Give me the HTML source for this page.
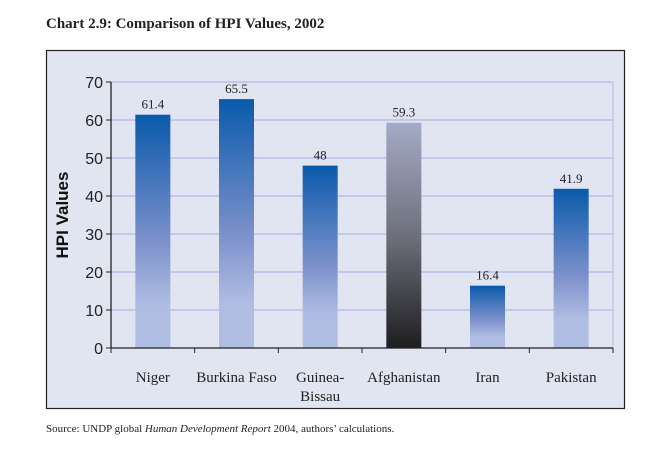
<!DOCTYPE html>
<html><head><meta charset="utf-8"><style>
body{margin:0;background:#fff;width:653px;height:457px;overflow:hidden}
svg{display:block}
</style></head><body>
<svg width="653" height="457" xmlns="http://www.w3.org/2000/svg">
<defs>
<linearGradient id="gb" x1="0" y1="0" x2="0" y2="1"><stop offset="0" stop-color="#0a5aab"/><stop offset="0.55" stop-color="#7d91cb"/><stop offset="0.82" stop-color="#b0bde3"/><stop offset="1" stop-color="#b0bde3"/></linearGradient>
<linearGradient id="gk" x1="0" y1="0" x2="0" y2="1"><stop offset="0" stop-color="#a4abc6"/><stop offset="0.5" stop-color="#6e707c"/><stop offset="1" stop-color="#1e1e20"/></linearGradient>
</defs>
<text x="46" y="28" font-family="Liberation Serif, serif" font-weight="bold" font-size="15" fill="#222">Chart 2.9: Comparison of HPI Values, 2002</text>
<rect x="46.5" y="50.5" width="578" height="358" fill="#e1e5f2" stroke="#222" stroke-width="1.2"/>
<g id="grid"></g>
<g id="bars"></g>
<g id="axes"></g>
<text transform="translate(68,215) rotate(-90)" text-anchor="middle" font-family="Liberation Sans, sans-serif" font-weight="bold" font-size="17" fill="#111">HPI Values</text>
<text x="46" y="432" font-family="Liberation Serif, serif" font-size="11" fill="#222">Source: UNDP global <tspan font-style="italic">Human Development Report</tspan> 2004, authors’ calculations.</text>
</svg>
<script>
const categories=[["Niger"],["Burkina Faso"],["Guinea-","Bissau"],["Afghanistan"],["Iran"],["Pakistan"]];
const values=[61.4,65.5,48,59.3,16.4,41.9];
const labels=["61.4","65.5","48","59.3","16.4","41.9"];
const yTicks=[0,10,20,30,40,50,60,70];
const NS="http://www.w3.org/2000/svg";
const X0=111,X1=613,Y0=348,Y1=82,YMAX=70;
const y=v=>Y0-(v/YMAX)*(Y0-Y1);
const bw=(X1-X0)/categories.length;
const x=i=>X0+bw*(i+0.5);
function mk(t,a,p){const e=document.createElementNS(NS,t);for(const k in a)e.setAttribute(k,a[k]);p.appendChild(e);return e;}
const grid=document.getElementById('grid'),bars=document.getElementById('bars'),axes=document.getElementById('axes');
yTicks.forEach(t=>{
  if(t>0){const l=mk('line',{x1:X0,x2:X1,y1:y(t),y2:y(t),stroke:'#aeb8e6','stroke-width':1.2},grid);
  
  }
  const tk=mk('line',{x1:X0-5,x2:X0,y1:y(t),y2:y(t),stroke:'#222'},axes);
  
  
  const tx=mk('text',{x:X0-8,y:y(t)+6,'text-anchor':'end','font-family':'Liberation Sans, sans-serif','font-size':16,fill:'#222'},axes);
  tx.textContent=t;
  
  
});
const rl=mk('line',{x1:X1,x2:X1,y1:Y1,y2:Y0,stroke:'#aeb8e6'},grid);


values.forEach((v,i)=>{
  const w=35;
  const r=mk('rect',{x:x(i)-w/2,y:y(v),width:w,height:Y0-y(v),fill:i===3?'url(#gk)':'url(#gb)'},bars);
  
  
  const t=mk('text',{x:x(i),y:y(v)-6,'text-anchor':'middle','font-family':'Liberation Serif, serif','font-size':13,fill:'#222'},bars);
  t.textContent=labels[i];
  
  
  categories[i].forEach((s,j)=>{
    const c=mk('text',{x:x(i),y:382+j*19,'text-anchor':'middle','font-family':'Liberation Serif, serif','font-size':15,fill:'#222'},axes);
    c.textContent=s;
    
    
  });
});
for(let i=0;i<=categories.length;i++){
  const tk=mk('line',{x1:X0+bw*i,x2:X0+bw*i,y1:Y0,y2:Y0+5,stroke:'#222'},axes);
  
  
}
const xa=mk('line',{x1:X0,x2:X1,y1:Y0,y2:Y0,stroke:'#222','stroke-width':1.3},axes);


const ya=mk('line',{x1:X0,x2:X0,y1:Y1,y2:Y0,stroke:'#222','stroke-width':1.3},axes);


</script>
</body></html>
